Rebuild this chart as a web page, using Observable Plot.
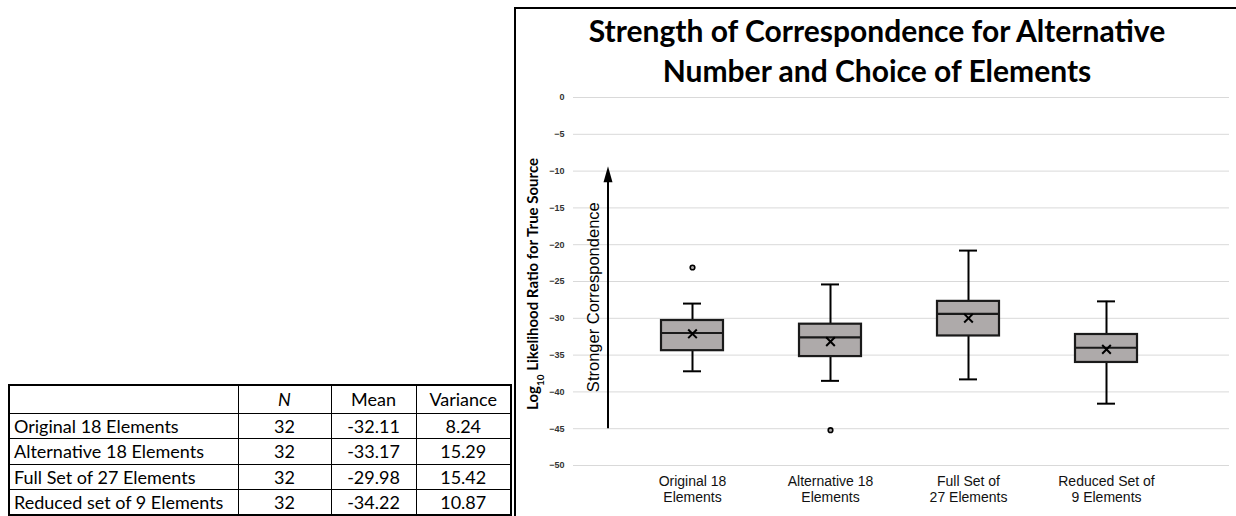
<!DOCTYPE html>
<html><head><meta charset="utf-8">
<script src="https://cdn.jsdelivr.net/npm/d3@7"></script>
<script src="https://cdn.jsdelivr.net/npm/@observablehq/plot@0.6"></script>
<style>
html,body{margin:0;padding:0;background:#fff}
body{width:1236px;height:516px;overflow:hidden;position:relative;font-family:"Liberation Sans",Arial,sans-serif}
#frame{position:absolute;left:514px;top:7px;width:740px;height:520px;border-left:2.5px solid #000;border-top:2.5px solid #000;box-sizing:border-box}
#title{position:absolute;left:515px;width:724px;top:10px;text-align:center;font-family:Lato,"Open Sans",sans-serif;font-weight:700;font-size:30px;line-height:40px;color:#000;white-space:nowrap}
#chart{position:absolute;left:515px;top:88px}
#tbl{position:absolute;left:8px;top:384px;border-collapse:collapse;font-family:Lato,"Open Sans",sans-serif;font-size:18px;color:#000;border:2px solid #000}
#tbl td{border:1px solid #000;padding:0 4px;height:25.5px;text-align:center;box-sizing:border-box}
#tbl tr.h td{height:28px}
#tbl td.l{text-align:left}
</style>
</head><body>
<div id="frame"></div>
<div id="title">Strength of Correspondence for Alternative<br>Number and Choice of Elements</div>
<div id="chart"></div>
<table id="tbl"></table>
<script>
// ---- data ----
const categories = ["Original 18 Elements", "Alternative 18 Elements", "Full Set of 27 Elements", "Reduced Set of 9 Elements"];
const xLabels = ["Original 18\nElements", "Alternative 18\nElements", "Full Set of\n27 Elements", "Reduced Set of\n9 Elements"];
const q1 = [-34.4, -35.2, -32.4, -36.0];
const median = [-32.0, -32.6, -29.4, -34.0];
const q3 = [-30.3, -30.8, -27.7, -32.2];
const whiskerLow = [-37.2, -38.5, -38.3, -41.6];
const whiskerHigh = [-28.0, -25.4, -20.8, -27.7];
const means = [-32.11, -33.17, -29.98, -34.22];
const outlierCategory = ["Original 18 Elements", "Alternative 18 Elements"];
const outlierValue = [-23.1, -45.2];
const yTicks = [0, -5, -10, -15, -20, -25, -30, -35, -40, -45, -50];

const tableHeader = ["", "N", "Mean", "Variance"];
const tableRows = ["Original 18 Elements", "Alternative 18 Elements", "Full Set of 27 Elements", "Reduced set of 9 Elements"];
const tableN = [32, 32, 32, 32];
const tableMean = ["-32.11", "-33.17", "-29.98", "-34.22"];
const tableVariance = ["8.24", "15.29", "15.42", "10.87"];

// ---- table ----
const colW = [229, 93, 85, 95];
const tbl = d3.select("#tbl");
const hr = tbl.append("tr").attr("class", "h");
tableHeader.forEach((h, i) => {
  const td = hr.append("td").style("width", colW[i] + "px").text(h);
  if (h === "N") td.style("font-style", "italic");
});
tableRows.forEach((r, i) => {
  const tr = tbl.append("tr");
  tr.append("td").attr("class", "l").text(r);
  tr.append("td").text(tableN[i]);
  tr.append("td").text(tableMean[i]);
  tr.append("td").text(tableVariance[i]);
});

// ---- chart ----
const boxes = categories.map((c, i) => ({c, q1: q1[i], med: median[i], q3: q3[i], lo: whiskerLow[i], hi: whiskerHigh[i], mean: means[i]}));
const outliers = outlierCategory.map((c, i) => ({c, v: outlierValue[i]}));
const labelOf = Object.fromEntries(categories.map((c, i) => [c, xLabels[i]]));

const plot = Plot.plot({
  width: 721,
  height: 428,
  marginTop: 9,
  marginBottom: 51,
  marginLeft: 58,
  marginRight: 7,
  style: {fontFamily: "'Liberation Sans', Arial, sans-serif", background: "transparent"},
  x: {domain: categories, range: [108, 660], padding: 0, label: null},
  y: {domain: [-50, 0], label: null},
  marks: [
    Plot.gridY(yTicks, {stroke: "#d9d9d9", strokeOpacity: 1, strokeWidth: 1}),
    Plot.axisY(yTicks, {tickSize: 0, tickPadding: 9, fontSize: 9, fontWeight: "bold", fill: "#333", label: null}),
    Plot.axisX({tickSize: 0, tickPadding: 9, fontSize: 14, lineHeight: 1.15, fill: "#111", tickFormat: d => labelOf[d], label: null}),
    Plot.ruleX(boxes, {x: "c", y1: "lo", y2: "q1", stroke: "#000", strokeWidth: 2}),
    Plot.ruleX(boxes, {x: "c", y1: "q3", y2: "hi", stroke: "#000", strokeWidth: 2}),
    Plot.tickY(boxes, {x: "c", y: "lo", stroke: "#000", strokeWidth: 2, insetLeft: 60, insetRight: 60}),
    Plot.tickY(boxes, {x: "c", y: "hi", stroke: "#000", strokeWidth: 2, insetLeft: 60, insetRight: 60}),
    Plot.barY(boxes, {x: "c", y1: "q1", y2: "q3", fill: "#aeaaaa", stroke: "#1a1a1a", strokeWidth: 2.2, insetLeft: 38, insetRight: 38}),
    Plot.tickY(boxes, {x: "c", y: "med", stroke: "#1a1a1a", strokeWidth: 2.2, insetLeft: 38, insetRight: 38}),
    Plot.dot(boxes, {x: "c", y: "mean", symbol: "times", r: 4, stroke: "#000", strokeWidth: 2}),
    Plot.dot(outliers, {x: "c", y: "v", r: 2.3, fill: "#aeaaaa", stroke: "#000", strokeWidth: 1.6})
  ]
});
document.getElementById("chart").appendChild(plot);

// annotations using the plot's own y scale
const ys = plot.scale("y");
const svg = d3.select(plot);
const ax = 93;
const yTop = ys.apply(-9.4), yBot = ys.apply(-45);
svg.append("line").attr("x1", ax).attr("x2", ax).attr("y1", yBot).attr("y2", yTop + 12)
  .attr("stroke", "#000").attr("stroke-width", 2);
svg.append("path").attr("d", `M${ax},${yTop} L${ax - 4.5},${yTop + 16} L${ax + 4.5},${yTop + 16} Z`).attr("fill", "#000");
svg.append("text").attr("transform", `translate(80,${ys.apply(-27.2)}) rotate(-90)`)
  .attr("text-anchor", "middle").attr("dominant-baseline", "middle")
  .style("font-family", "'Liberation Sans', Arial, sans-serif").style("font-size", "16.5px").attr("fill", "#000")
  .text("Stronger Correspondence");
const yl = svg.append("text").attr("transform", `translate(23,${ys.apply(-25.4)}) rotate(-90)`)
  .attr("text-anchor", "middle")
  .style("font-family", "Lato, 'Open Sans', sans-serif").style("font-size", "15px").style("font-weight", "bold").attr("fill", "#000");
yl.append("tspan").text("Log");
yl.append("tspan").attr("baseline-shift", "sub").style("font-size", "10px").text("10");
yl.append("tspan").text(" Likelihood Ratio for True Source");
</script>
</body></html>
